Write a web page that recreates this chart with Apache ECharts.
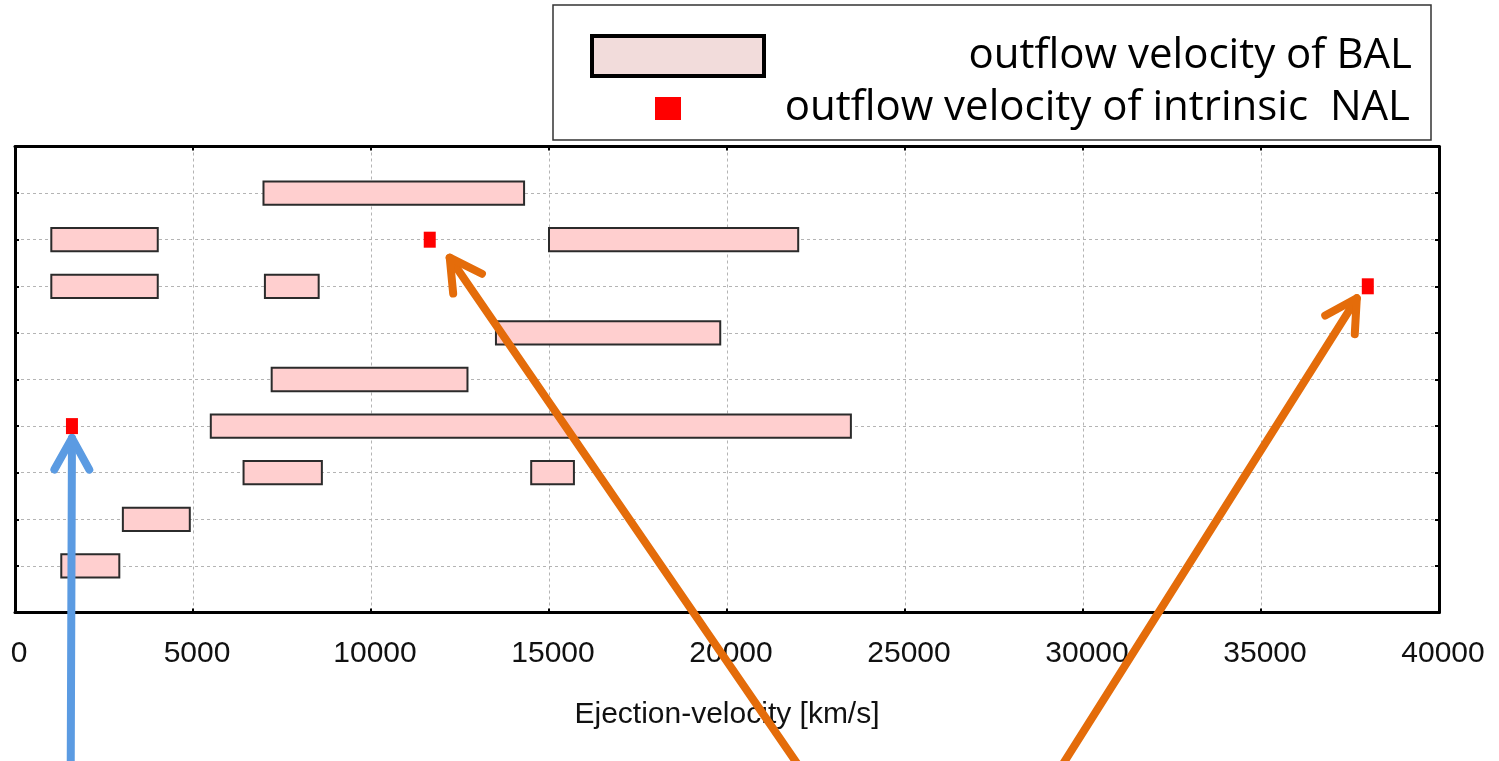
<!DOCTYPE html>
<html>
<head>
<meta charset="utf-8">
<script src="https://cdn.jsdelivr.net/npm/echarts@6/dist/echarts.min.js"></script>
<style>
  html, body { margin: 0; padding: 0; background: #fff; }
  #chart { width: 1499px; height: 761px; }
</style>
</head>
<body>
<div id="chart"></div>
<script>
// Broad absorption line (BAL) troughs: velocity range per object row
const balRow   = [9, 8, 8, 7, 7, 6, 5, 4, 3, 3, 2, 1];
const balStart = [6980, 1020, 15000, 1020, 7020, 13510, 7210, 5500, 6420, 14500, 3030, 1300];
const balEnd   = [14300, 4010, 22000, 4010, 8530, 19810, 12710, 23480, 8620, 15700, 4910, 2930];

// Intrinsic narrow absorption lines (NAL)
const nalRow = [8, 7, 4];
const nalVel = [11650, 38000, 1600];

const xTicks = [0, 5000, 10000, 15000, 20000, 25000, 30000, 35000, 40000];

const BAL_NAME = 'outflow velocity of BAL';
const NAL_NAME = 'outflow velocity of intrinsic  NAL';
const AXIS_FONT = "'Liberation Sans', Arial, sans-serif";
const LEGEND_FONT = "'Open Sans', Lato, sans-serif";

const chart = echarts.init(document.getElementById('chart'), null, { renderer: 'canvas' });

function renderBal(params, api) {
  const s = api.coord([api.value(0), api.value(2)]);
  const e = api.coord([api.value(1), api.value(2)]);
  const h = api.size([0, 0.5])[1];
  return {
    type: 'rect',
    shape: { x: s[0], y: s[1] - h / 2, width: e[0] - s[0], height: h },
    style: { fill: '#ffcfcf', stroke: '#2b2b2b', lineWidth: 2 }
  };
}

const dotted = { show: true, lineStyle: { color: '#b4b4b4', width: 1, type: [3, 3] } };
const tickIn = { show: true, inside: true, length: 4, lineStyle: { color: '#000', width: 2 } };
const frameLine = { show: true, onZero: false, lineStyle: { color: '#000', width: 3 } };

function legendText(width) {
  return {
    formatter: name => '{t|' + name + '}',
    textStyle: {
      rich: {
        t: { width: width, align: 'right', fontSize: 42, lineHeight: 46,
             fontFamily: LEGEND_FONT, color: '#000' }
      }
    }
  };
}

const legendBox = {
  type: 'rect', z: 0,
  shape: { x: 553, y: 5, width: 878, height: 135 },
  style: { fill: '#fff', stroke: '#333', lineWidth: 1.5 }
};

chart.setOption({
  backgroundColor: '#fff',
  animation: false,
  grid: { left: 15, right: 60, top: 146.5, bottom: 148.5, show: false },
  legend: [
    Object.assign({
      left: 590, top: 34, padding: 0, selectedMode: false,
      itemWidth: 172, itemHeight: 40,
      data: [{ name: BAL_NAME, icon: 'rect',
               itemStyle: { color: '#f2dcdb', borderColor: '#000', borderWidth: 4, opacity: 1 } }]
    }, legendText(643)),
    Object.assign({
      left: 655, top: 87.5, padding: 0, selectedMode: false,
      itemWidth: 26, itemHeight: 23,
      data: [{ name: NAL_NAME, icon: 'rect',
               itemStyle: { color: '#ff0000', borderWidth: 0, opacity: 1 } }]
    }, legendText(724))
  ],
  xAxis: [
    {
      type: 'value', min: 0, max: 40000, interval: 5000,
      name: 'Ejection-velocity [km/s]', nameLocation: 'middle', nameGap: 87,
      nameTextStyle: { fontFamily: AXIS_FONT, fontSize: 30, color: '#111' },
      axisLine: frameLine,
      axisTick: tickIn,
      axisLabel: { fontFamily: AXIS_FONT, fontSize: 30, color: '#111', margin: 26,
                   padding: [0, 0, 0, 8],
                   formatter: v => xTicks.includes(v) ? String(v) : '' },
      splitLine: dotted
    },
    {
      type: 'value', position: 'top', min: 0, max: 40000, interval: 5000,
      axisLine: frameLine, axisTick: tickIn, axisLabel: { show: false },
      splitLine: { show: false }
    }
  ],
  yAxis: [
    {
      type: 'value', min: 0, max: 10, interval: 1,
      axisLine: frameLine, axisTick: tickIn, axisLabel: { show: false },
      splitLine: dotted
    },
    {
      type: 'value', position: 'right', min: 0, max: 10, interval: 1,
      axisLine: frameLine, axisTick: tickIn, axisLabel: { show: false },
      splitLine: { show: false }
    }
  ],
  series: [
    {
      name: BAL_NAME, type: 'custom', renderItem: renderBal,
      encode: { x: [0, 1], y: 2 },
      data: balStart.map((s, i) => [s, balEnd[i], balRow[i]]),
      z: 3
    },
    {
      name: NAL_NAME, type: 'scatter', symbol: 'rect', symbolSize: [12, 16],
      itemStyle: { color: '#ff0000', opacity: 1 },
      data: nalVel.map((v, i) => [v, nalRow[i]]),
      z: 4
    }
  ],
  graphic: [legendBox]
});

// Annotation arrows pointing at the NAL markers
const arrowSpec = [
  { idx: 2, tail: [70.7, 775], off: [0, 12], color: '#5b9be2' },
  { idx: 0, tail: [805, 775], off: [20, 18], color: '#e46c0a' },
  { idx: 1, tail: [1056, 775], off: [-11, 12], color: '#e46c0a' }
];

function arrowGraphic(spec) {
  const p = chart.convertToPixel({ xAxisIndex: 0, yAxisIndex: 0 }, [nalVel[spec.idx], nalRow[spec.idx]]);
  const tip = [p[0] + spec.off[0], p[1] + spec.off[1]];
  const dx = spec.tail[0] - tip[0], dy = spec.tail[1] - tip[1];
  const len = Math.hypot(dx, dy);
  const ux = dx / len, uy = dy / len;
  const ang = 29 * Math.PI / 180, arm = 36;
  const rot = (a) => [tip[0] + arm * (ux * Math.cos(a) - uy * Math.sin(a)),
                      tip[1] + arm * (ux * Math.sin(a) + uy * Math.cos(a))];
  const style = { stroke: spec.color, lineWidth: 8, lineCap: 'round', lineJoin: 'round', fill: null };
  return [
    { type: 'polyline', z: 10, shape: { points: [spec.tail, tip] }, style: style },
    { type: 'polyline', z: 10, shape: { points: [rot(ang), tip, rot(-ang)] }, style: style }
  ];
}

const arrows = arrowSpec.map(arrowGraphic).flat();
chart.setOption({ graphic: [legendBox].concat(arrows) }, { replaceMerge: ['graphic'] });
</script>
</body>
</html>
